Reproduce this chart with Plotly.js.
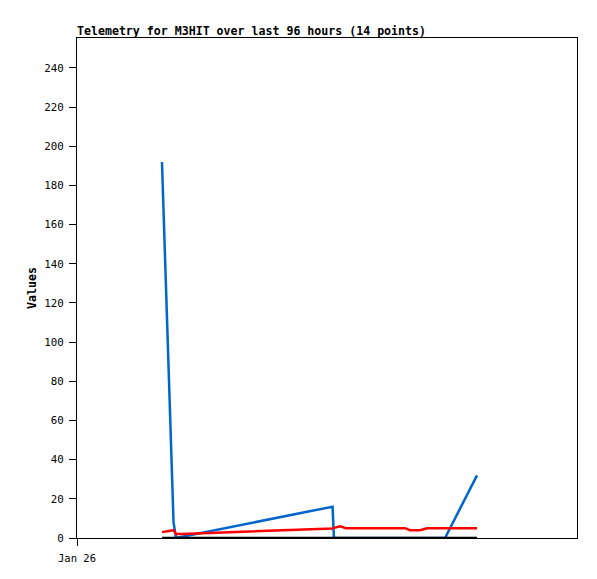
<!DOCTYPE html>
<html>
<head>
<meta charset="utf-8">
<script src="https://cdn.plot.ly/plotly-3.0.1.min.js"></script>
<style>html,body{margin:0;padding:0;background:#fff}#chart{width:597px;height:579px}</style>
</head>
<body>
<div id="chart"></div>
<script>
const times = [
  "2024-01-26 16:19", "2024-01-26 18:32", "2024-01-26 19:01", "2024-01-26 20:21",
  "2024-01-28 01:04", "2024-01-28 01:20", "2024-01-28 02:30", "2024-01-28 03:39",
  "2024-01-28 14:59", "2024-01-28 15:56", "2024-01-28 17:52", "2024-01-28 19:12",
  "2024-01-28 22:40", "2024-01-29 04:48"
];
const blueValues  = [192, 8, 0, 0.7, 16, 0, 0, 0, 0, 0, 0, 0, 0, 32];
const redValues   = [3, 4, 2, 2.1, 4.9, 5.2, 6, 5, 5, 4, 4, 5, 5, 5];
const blackValues = [0, 0, 0, 0, 0, 0, 0, 0, 0, 0, 0, 0, 0, 0];
const xTickVals = ["2024-01-26 00:00"];
const xTickText = ["Jan 26"];
const xRange = ["2024-01-26 00:00", "2024-01-30 00:00"];
const yRange = [0, 255.3];
const titleText = "Telemetry for M3HIT over last 96 hours (14 points)";
const yTitle = "Values";

const mono = "DejaVu Sans Mono, monospace";
const traces = [
  {x: times, y: blueValues, type: "scatter", mode: "lines", line: {color: "#0066cc", width: 2.5}, hoverinfo: "none"},
  {x: times, y: redValues, type: "scatter", mode: "lines", line: {color: "#ff0000", width: 2.5}, hoverinfo: "none"},
  {x: times, y: blackValues, type: "scatter", mode: "lines", line: {color: "#000000", width: 2.5}, hoverinfo: "none"}
];
const layout = {
  width: 597, height: 579,
  margin: {l: 77, r: 20, t: 38, b: 41, pad: 0},
  paper_bgcolor: "#ffffff", plot_bgcolor: "#ffffff",
  showlegend: false,
  font: {family: mono, size: 11, color: "#000"},
  title: {text: "<b>" + titleText + "</b>", font: {family: mono, size: 11.6, color: "#000"},
          x: 77/597, xref: "container", xanchor: "left", y: 1 - 31/579, yref: "container", yanchor: "middle"},
  xaxis: {type: "date", range: xRange, tickvals: xTickVals, ticktext: xTickText,
          showgrid: false, zeroline: false, showline: true, linecolor: "#000", linewidth: 1, mirror: true,
          ticks: "outside", ticklen: 7, tickcolor: "#000", tickwidth: 1, ticklabelstandoff: 3,
          tickfont: {family: mono, size: 10.5, color: "#000"}},
  yaxis: {range: yRange, dtick: 20, tick0: 0, showgrid: false, zeroline: false,
          showline: true, linecolor: "#000", linewidth: 1, mirror: true,
          ticks: "outside", ticklen: 7, tickcolor: "#000", tickwidth: 1, ticklabelstandoff: 3,
          tickfont: {family: mono, size: 10.8, color: "#000"},
          title: {text: "<b>" + yTitle + "</b>", font: {family: mono, size: 11.6, color: "#000"}, standoff: 5}}
};
Plotly.newPlot("chart", traces, layout, {staticPlot: true, displayModeBar: false});
</script>
</body>
</html>
